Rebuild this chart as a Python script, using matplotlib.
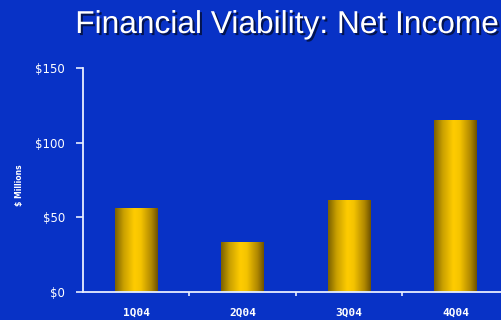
import matplotlib
matplotlib.use("Agg")
import matplotlib.pyplot as plt
import matplotlib.patheffects as pe
import numpy as np
from matplotlib.colors import LinearSegmentedColormap

categories = ["1Q04", "2Q04", "3Q04", "4Q04"]
values = [56, 33, 61, 115]
yticks = [0, 50, 100, 150]
ytick_labels = ["$0", "$50", "$100", "$150"]
title = "Financial Viability: Net Income"
ylabel = "$ Millions"

bg = "#0832c6"
fig = plt.figure(figsize=(5.02, 3.2), dpi=100, facecolor=bg)
ax = fig.add_axes([83/502, 1-292/320, (509-83)/502, (292-68)/320])
ax.set_facecolor(bg)

cmap = LinearSegmentedColormap.from_list(
    "gold", [(0.0, "#7a6000"), (0.2, "#c9a000"), (0.45, "#ffcc00"),
             (0.6, "#f5c400"), (0.85, "#b08800"), (1.0, "#6e5200")])
grad = np.linspace(0, 1, 256).reshape(1, -1)
w = 0.40
for i, v in enumerate(values):
    ax.imshow(grad, cmap=cmap, extent=(i - w/2, i + w/2, 0, v),
              aspect="auto", zorder=2, interpolation="bicubic")

ax.set_xlim(-0.5, 3.5)
ax.set_ylim(0, 150)

ax.set_yticks(yticks)
ax.set_yticklabels(ytick_labels)
ax.set_xticks(range(len(categories)))
ax.set_xticklabels(categories)
ax.set_xticks([0.5, 1.5, 2.5], minor=True)
ax.tick_params(axis="x", which="major", length=0, pad=11, labelsize=8, labelcolor="white")
ax.tick_params(axis="x", which="minor", length=3, width=1.2, color="#e8eeff", direction="out")
ax.tick_params(axis="y", length=5, width=1.2, color="#e8eeff", labelsize=8.5,
               labelcolor="white", pad=8)
for lab in ax.get_xticklabels():
    lab.set_fontweight("bold")
    lab.set_family("DejaVu Sans Mono")

for s in ["top", "right"]:
    ax.spines[s].set_visible(False)
for s in ["left", "bottom"]:
    ax.spines[s].set_color("#e8eeff")
    ax.spines[s].set_linewidth(1.3)

fig.text(20/502, 1-185/320, ylabel, rotation=90, color="white", fontsize=5.5,
         fontweight="bold", ha="center", va="center")

fig.text(287/502, 1-25/320, title, color="white", fontsize=22.8, ha="center",
         va="center", family="Liberation Sans",
         path_effects=[pe.withSimplePatchShadow(offset=(1.5, -1.5), shadow_rgbFace="black", alpha=0.6)])

fig.savefig("out.png", dpi=100, facecolor=bg)
